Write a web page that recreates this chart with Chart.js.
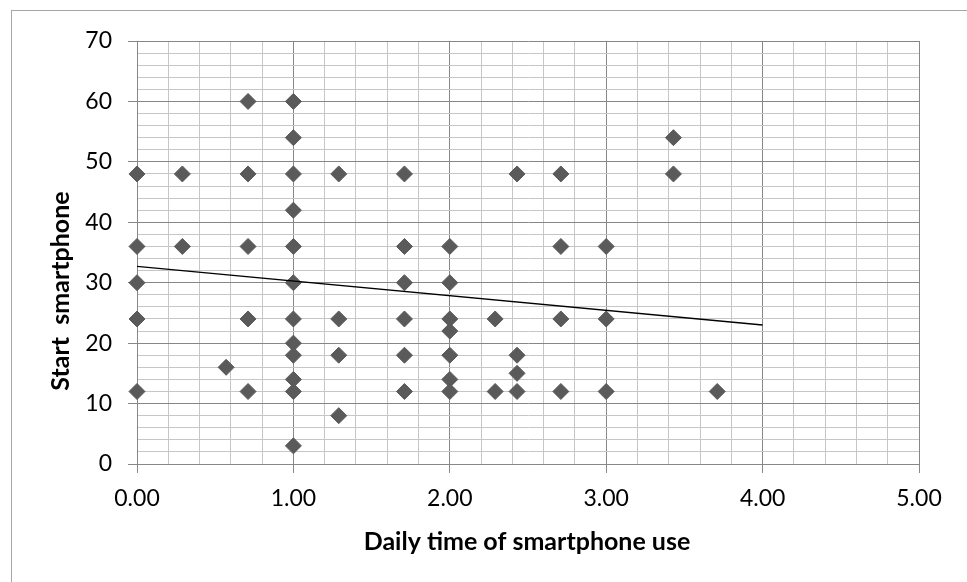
<!DOCTYPE html>
<html>
<head>
<meta charset="utf-8">
<title>Start smartphone vs daily use</title>
<script src="https://cdn.jsdelivr.net/npm/chart.js@4/dist/chart.umd.min.js"></script>
<style>
    body { margin: 0; background: #fff; }
    #wrap { position: relative; width: 967px; height: 582px; overflow: hidden; }
    #frame { position: absolute; left: 11px; top: 10px; width: 980px; height: 600px; border: 1px solid #a6a6a6; }
    canvas { position: absolute; left: 0; top: 0; }
</style>
</head>
<body>
<div id="wrap">
    <div id="frame"></div>
    <canvas id="scatterChart" width="967" height="582"></canvas>
</div>
<script>
// Daily time of smartphone use (x) and start of smartphone (y), one entry per respondent
const dailyUse = [
    0, 0, 0, 0, 0,
    0.29, 0.29,
    0.57,
    0.71, 0.71, 0.71, 0.71, 0.71,
    1, 1, 1, 1, 1, 1, 1, 1, 1, 1, 1, 1,
    1.29, 1.29, 1.29, 1.29,
    1.71, 1.71, 1.71, 1.71, 1.71, 1.71,
    2, 2, 2, 2, 2, 2, 2,
    2.29, 2.29,
    2.43, 2.43, 2.43, 2.43,
    2.71, 2.71, 2.71, 2.71,
    3, 3, 3,
    3.43, 3.43,
    3.71
];
const startAge = [
    48, 36, 30, 24, 12,
    48, 36,
    16,
    60, 48, 36, 24, 12,
    60, 54, 48, 42, 36, 30, 24, 20, 18, 14, 12, 3,
    48, 24, 18, 8,
    48, 36, 30, 24, 18, 12,
    36, 30, 24, 22, 18, 14, 12,
    24, 12,
    48, 18, 15, 12,
    48, 36, 24, 12,
    36, 24, 12,
    54, 48,
    12
];

// linear trendline end points
const trendX = [0, 4];
const trendY = [32.7, 23.0];

const xTitle = 'Daily time of smartphone use';
const yTitle = 'Start  smartphone';

const MAJOR = '#878787';
const MINOR = '#c6c6c6';
const TICK_FONT = { family: 'Lato', size: 23 };

const isWhole = (v, step) => Math.abs(v / step - Math.round(v / step)) < 1e-6;

// axis titles drawn at the spots Excel put them
const axisTitles = {
    id: 'axisTitles',
    afterDraw(chart) {
        const ctx = chart.ctx;
        ctx.save();
        ctx.fillStyle = '#000';
        ctx.font = 'bold 25px Lato';
        ctx.textAlign = 'center';
        ctx.textBaseline = 'alphabetic';
        ctx.fillText(xTitle, 527, 550);
        ctx.translate(69, 291);
        ctx.rotate(-Math.PI / 2);
        ctx.fillText(yTitle, 0, 0);
        ctx.restore();
    }
};

document.addEventListener('DOMContentLoaded', () => {
    const ctx = document.getElementById('scatterChart').getContext('2d');

    const points = dailyUse.map((x, i) => ({ x: x, y: startAge[i] }));
    const trend = trendX.map((x, i) => ({ x: x, y: trendY[i] }));

    new Chart(ctx, {
        type: 'scatter',
        data: {
            datasets: [
                {
                    data: trend,
                    showLine: true,
                    borderColor: '#000',
                    borderWidth: 1.4,
                    pointRadius: 0,
                    pointHoverRadius: 0
                },
                {
                    data: points,
                    clip: false,
                    pointStyle: 'rectRot',
                    pointRadius: 8,
                    pointHoverRadius: 8,
                    backgroundColor: '#5a5a5a',
                    borderColor: '#5a5a5a',
                    borderWidth: 1
                }
            ]
        },
        options: {
            responsive: false,
            animation: false,
            layout: { padding: { left: 0, right: 48, top: 41, bottom: 0 } },
            plugins: {
                legend: { display: false },
                tooltip: { enabled: false }
            },
            scales: {
                x: {
                    type: 'linear',
                    min: 0,
                    max: 5,
                    afterFit: (scale) => { scale.height = 118; },
                    border: { color: MAJOR },
                    grid: {
                        color: (c) => isWhole(c.tick.value, 1) ? MAJOR : MINOR,
                        tickColor: (c) => isWhole(c.tick.value, 1) ? MAJOR : 'transparent',
                        tickLength: 9
                    },
                    ticks: {
                        stepSize: 0.2,
                        autoSkip: false,
                        maxRotation: 0,
                        padding: 12,
                        color: '#000',
                        font: TICK_FONT,
                        callback: (v) => isWhole(v, 1) ? Number(v).toFixed(2) : ''
                    }
                },
                y: {
                    min: 0,
                    max: 70,
                    afterFit: (scale) => { scale.width = 137; },
                    border: { color: MAJOR },
                    grid: {
                        color: (c) => isWhole(c.tick.value, 10) ? MAJOR : MINOR,
                        tickColor: (c) => isWhole(c.tick.value, 10) ? MAJOR : 'transparent',
                        tickLength: 9
                    },
                    ticks: {
                        stepSize: 2,
                        autoSkip: false,
                        padding: 16,
                        color: '#000',
                        font: TICK_FONT,
                        callback: (v) => isWhole(v, 10) ? String(Math.round(v)) : ''
                    }
                }
            }
        },
        plugins: [axisTitles]
    });
});
</script>
</body>
</html>
